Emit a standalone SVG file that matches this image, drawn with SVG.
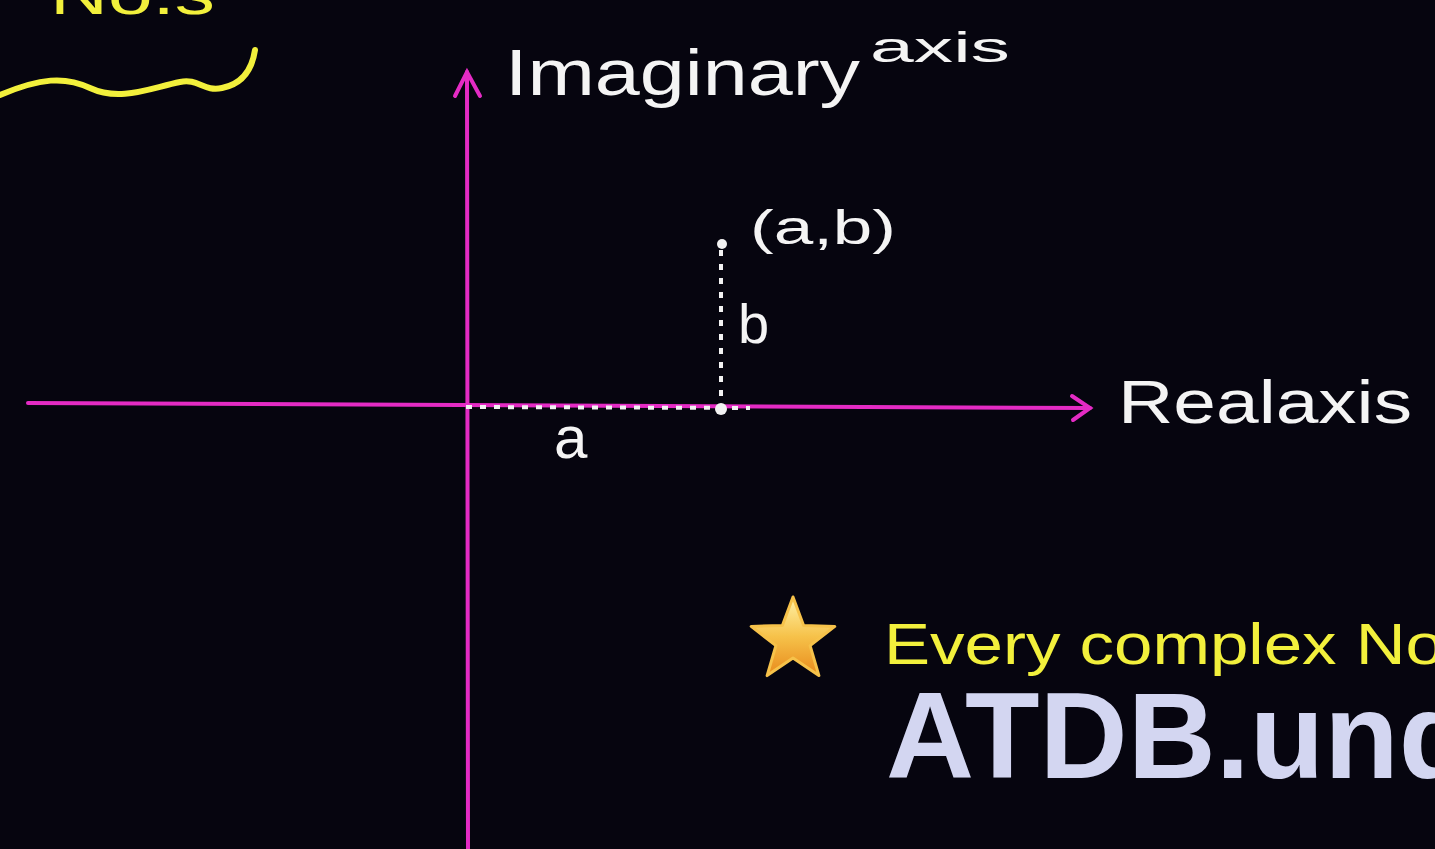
<svg xmlns="http://www.w3.org/2000/svg" width="1435" height="849" viewBox="0 0 1435 849">
<style>
.hw{font-family:"Liberation Sans","DejaVu Sans",sans-serif;fill:#f4f4f4}
.yw{font-family:"Liberation Sans","DejaVu Sans",sans-serif;fill:#f2f03c}
.axis{stroke:#e42bc4;stroke-width:4;fill:none;stroke-linecap:round}
.dot{stroke:#f2f2f2;stroke-width:4;fill:none;stroke-dasharray:6 8}
.wm{font-family:"Liberation Sans",Arial,sans-serif;font-weight:bold;fill:#d3d6f1}
</style>
<defs>
<linearGradient id="gold" x1="0" y1="0" x2="0" y2="1">
<stop offset="0" stop-color="#fff2a8"/>
<stop offset="0.5" stop-color="#f6c24a"/>
<stop offset="1" stop-color="#e88a1c"/>
</linearGradient>
</defs>
<rect width="1435" height="849" fill="#06050f"/>
<g id="heading">
<text class="yw" x="50" y="14" font-size="58" textLength="165" lengthAdjust="spacingAndGlyphs">No.s</text>
<path d="M0,95 C40,78 65,76 90,88 C120,102 150,88 180,82 C198,78 204,92 222,88 C242,84 252,70 255,50" stroke="#f2f03c" stroke-width="6" fill="none" stroke-linecap="round"/>
</g>
<g id="connectors">
<path class="axis" d="M28,403 L1090,408"/>
<path class="axis" d="M1072,396 L1090,408 L1073,420"/>
<path class="axis" d="M468,849 L467,72"/>
<path class="axis" d="M455,96 L467,72 L480,96"/>
<path class="dot" d="M466,407 L750,408"/>
<path class="dot" d="M721,250 L721,405"/>
</g>
<g id="point">
<circle cx="722" cy="244" r="5" fill="#f2f2f2"/>
<circle cx="721" cy="409" r="6" fill="#f2f2f2"/>
<text class="hw" x="750" y="244" font-size="48" textLength="146" lengthAdjust="spacingAndGlyphs">(a,b)</text>
</g>
<g id="label-b"><text class="hw" x="738" y="343" font-size="56">b</text></g>
<g id="label-a"><text class="hw" x="554" y="458" font-size="60">a</text></g>
<g id="imag-label">
<text class="hw" x="505" y="95" font-size="64" textLength="355" lengthAdjust="spacingAndGlyphs">Imaginary</text>
<text class="hw" x="870" y="62" font-size="42" textLength="140" lengthAdjust="spacingAndGlyphs">axis</text>
</g>
<g id="real-label"><text class="hw" x="1118" y="423" font-size="62" textLength="294" lengthAdjust="spacingAndGlyphs">Realaxis</text></g>
<g id="note">
<polygon fill="url(#gold)" stroke="#f6c24a" stroke-width="3" stroke-linejoin="round" points="793,597 803.6,625.4 834.8,626.4 810.1,645.6 818.9,675.6 793,658 767.1,675.6 775.9,645.6 751.2,626.4 782.4,625.4"/>
<text class="yw" x="884" y="664" font-size="58" textLength="560" lengthAdjust="spacingAndGlyphs">Every complex No</text>
</g>
<g id="watermark"><text class="wm" x="886" y="778" font-size="122">ATDB.und</text></g>
</svg>
